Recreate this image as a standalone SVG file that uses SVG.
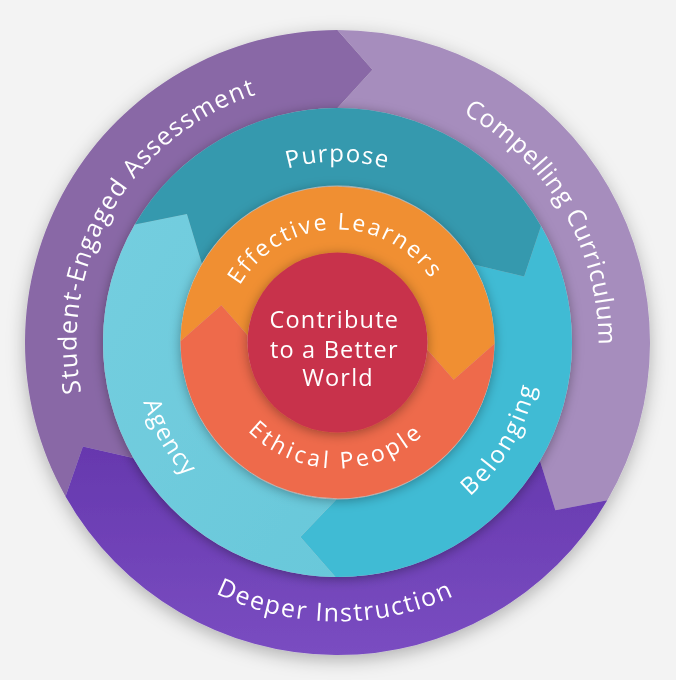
<svg xmlns="http://www.w3.org/2000/svg" width="676" height="680" viewBox="0 0 676 680">
  <defs>
    <filter id="shadowOuter" x="-20%" y="-20%" width="140%" height="140%">
      <feDropShadow dx="0" dy="5" stdDeviation="9" flood-color="#000" flood-opacity="0.28"/>
    </filter>
    <filter id="shadowRing" x="-20%" y="-20%" width="140%" height="140%">
      <feDropShadow dx="0" dy="2" stdDeviation="6" flood-color="#000" flood-opacity="0.35"/>
    </filter>
    <linearGradient id="gDeeper" x1="0" y1="0" x2="0" y2="1">
      <stop offset="0" stop-color="#6638AE"/>
      <stop offset="1" stop-color="#7A4DC1"/>
    </linearGradient>
    <linearGradient id="gAgency" x1="0" y1="0" x2="1" y2="1">
      <stop offset="0" stop-color="#74CEDF"/>
      <stop offset="1" stop-color="#69C8DA"/>
    </linearGradient>
    <path id="pStudent" d="M 167.99,540.97 A 261 261 0 0 1 428.90,98.03"/>
    <path id="pCompelling" d="M 246.95,97.71 A 261 261 0 0 1 506.31,541.56"/>
    <path id="pDeeper" d="M 62.33,388.55 A 279 279 0 0 0 611.83,393.34"/>
    <path id="pPurpose" d="M 159.25,311.07 A 181 181 0 0 1 515.75,311.07"/>
    <path id="pAgency" d="M 208.56,185.71 A 203 203 0 0 0 404.93,533.97"/>
    <path id="pBelonging" d="M 265.75,532.39 A 203 203 0 0 0 469.88,188.60"/>
    <path id="pEffective" d="M 225.68,326.19 A 113 113 0 0 1 448.15,319.58"/>
    <path id="pEthical" d="M 213.10,362.54 A 126 126 0 0 0 461.25,366.22"/>
  </defs>
  <style>
    .lbl { font-family: "Open Sans", "Noto Sans", sans-serif; font-weight: 500; fill: #ffffff; }
    .outer { font-size: 25px; }
    .mid { font-size: 24px; }
    .inner { font-size: 23px; }
    .core { font-size: 23.5px; letter-spacing: 1.2px; }
  </style>

  <rect x="0" y="0" width="676" height="680" fill="#F3F3F3"/>

  <g id="outer-ring" filter="url(#shadowOuter)">
    <g id="student-engaged-assessment">
      <path d="M 65.51,496.38 A 312.5 312.5 0 0 1 337.5,30 L 372.44,69.73 L 337.5,108 A 234.5 234.5 0 0 0 133.40,457.97 L 82.89,446.41 Z" fill="#8968A6"/>
      <text class="lbl outer" letter-spacing="1.3"><textPath href="#pStudent" startOffset="50%" text-anchor="middle">Student-Engaged Assessment</textPath></text>
    </g>
    <g id="compelling-curriculum">
      <path d="M 337.5,30 A 312.5 312.5 0 0 1 607.31,500.17 L 555.38,510.29 L 539.97,460.81 A 234.5 234.5 0 0 0 337.5,108 L 372.44,69.73 Z" fill="#A68DBD"/>
      <text class="lbl outer" letter-spacing="0.7"><textPath href="#pCompelling" startOffset="50%" text-anchor="middle">Compelling Curriculum</textPath></text>
    </g>
    <g id="deeper-instruction">
      <path d="M 607.31,500.17 A 312.5 312.5 0 0 1 65.51,496.38 L 82.89,446.41 L 133.40,457.97 A 234.5 234.5 0 0 0 539.97,460.81 L 555.38,510.29 Z" fill="url(#gDeeper)"/>
      <text class="lbl outer" letter-spacing="1.6"><textPath href="#pDeeper" startOffset="50%" text-anchor="middle">Deeper Instruction</textPath></text>
    </g>
  </g>

  <g id="middle-ring" filter="url(#shadowRing)">
    <g id="belonging">
      <path d="M 541.00,225.95 A 234.5 234.5 0 0 1 335.45,576.99 L 300.40,536.99 L 336.13,499.49 A 157 157 0 0 0 473.75,264.48 L 524.14,276.41 Z" fill="#41BBD4"/>
      <text class="lbl mid" letter-spacing="2.3"><textPath href="#pBelonging" startOffset="50%" text-anchor="middle">Belonging</textPath></text>
    </g>
    <g id="agency">
      <path d="M 335.45,576.99 A 234.5 234.5 0 0 1 134.83,224.54 L 186.94,213.91 L 201.81,263.53 A 157 157 0 0 0 336.13,499.49 L 300.40,536.99 Z" fill="url(#gAgency)"/>
      <text class="lbl mid" letter-spacing="1.3"><textPath href="#pAgency" startOffset="50%" text-anchor="middle">Agency</textPath></text>
    </g>
    <g id="purpose">
      <path d="M 134.83,224.54 A 234.5 234.5 0 0 1 541.00,225.95 L 524.14,276.41 L 473.75,264.48 A 157 157 0 0 0 201.81,263.53 L 186.94,213.91 Z" fill="#3599AE"/>
      <text class="lbl mid" letter-spacing="1.2"><textPath href="#pPurpose" startOffset="50%" text-anchor="middle">Purpose</textPath></text>
    </g>
  </g>

  <g id="inner-ring" filter="url(#shadowRing)">
    <g id="effective-learners">
      <path d="M 180.51,341.13 A 157 157 0 0 1 494.49,343.87 L 453.66,379.80 L 427.22,349.56 A 90 90 0 0 0 247.78,335.44 L 221.34,305.20 Z" fill="#F08F30"/>
      <text class="lbl inner" letter-spacing="2.1"><textPath href="#pEffective" startOffset="50%" text-anchor="middle">Effective Learners</textPath></text>
    </g>
    <g id="ethical-people">
      <path d="M 494.49,343.87 A 157 157 0 0 1 180.51,341.13 L 221.34,305.20 L 247.78,335.44 A 90 90 0 0 0 427.22,349.56 L 453.66,379.80 Z" fill="#EE6B4C"/>
      <text class="lbl inner" letter-spacing="3.3"><textPath href="#pEthical" startOffset="50%" text-anchor="middle">Ethical People</textPath></text>
    </g>
  </g>

  <g id="core" filter="url(#shadowRing)">
    <circle cx="337.5" cy="342.5" r="90" fill="#C8334B"/>
    <text class="lbl core" text-anchor="middle">
      <tspan x="338" y="328">Contribute</tspan>
      <tspan x="338" y="358">to a Better</tspan>
      <tspan x="338" y="386">World</tspan>
    </text>
  </g>
</svg>
